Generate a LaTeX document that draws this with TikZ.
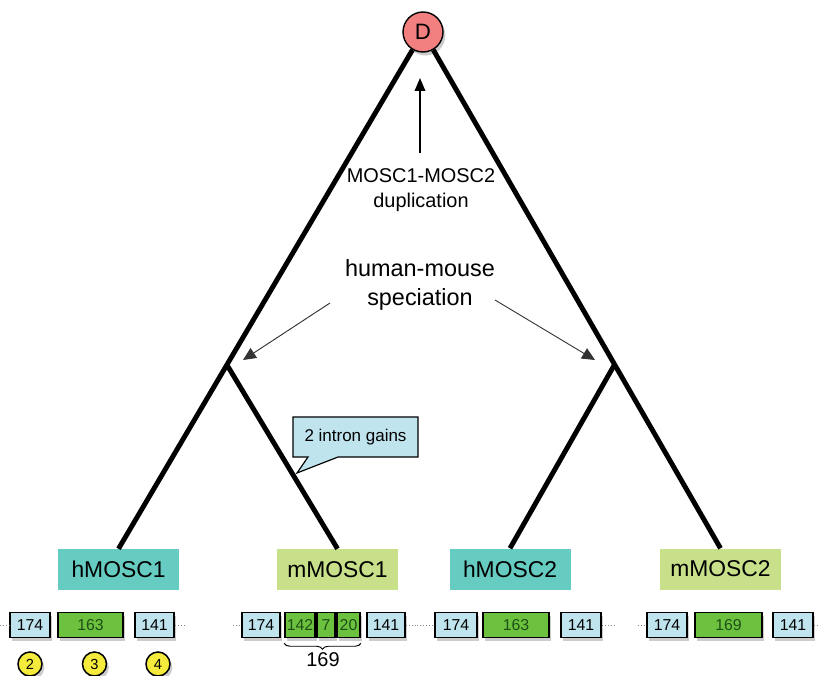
\documentclass[tikz,border=0pt]{standalone}
\usepackage{fontspec}
\setmainfont{Liberation Sans}
\usetikzlibrary{shapes.callouts,shadows,arrows.meta,decorations.pathreplacing,calc}
\definecolor{tealbox}{HTML}{66CCC2}
\definecolor{limebox}{HTML}{C8E08A}
\definecolor{exblue}{HTML}{BFE4EE}
\definecolor{exgreen}{HTML}{6CC23F}
\definecolor{exgtext}{HTML}{1E4F14}
\definecolor{dred}{HTML}{F28080}
\definecolor{yelc}{HTML}{F5EB3C}
\begin{document}
\begin{tikzpicture}[x=0.03cm,y=-0.03cm,
  tree/.style={line width=4.2pt,black},
  genebox/.style={minimum width=3.63cm,minimum height=1.23cm,inner sep=0pt,font=\fontsize{19.5}{22}\selectfont},
  shad/.style={drop shadow={shadow xshift=2pt,shadow yshift=-3pt,opacity=0.4}},
  exb/.style={draw,line width=1.4pt,fill=exblue,minimum height=0.75cm,inner sep=0pt,shad,font=\fontsize{13.5}{15}\selectfont},
  exg/.style={exb,fill=exgreen,text=exgtext},
  dots/.style={gray,dotted,line width=0.6pt},
  numc/.style={circle,draw,line width=1.3pt,fill=yelc,minimum size=0.72cm,inner sep=0pt,shad,font=\fontsize{12.5}{14}\selectfont},
  thinarrow/.style={line width=0.8pt,black!80,-{Triangle[length=11pt,width=10pt]}},
  vertarrow/.style={line width=1.2pt,-{Triangle[length=11pt,width=9pt]}}
]
\useasboundingbox (0,0) rectangle (819,675);

% root
\node[circle,draw,line width=1.2pt,fill=dred,minimum size=1.2cm,inner sep=0pt,shad,font=\fontsize{19}{21}\selectfont] (D) at (423,32) {D};

% gene labels
\node[genebox,fill=tealbox] (h1) at (118.5,569.5) {hMOSC1};
\node[genebox,fill=limebox] (m1) at (337.5,569.5) {mMOSC1};
\node[genebox,fill=tealbox] (h2) at (510,569) {hMOSC2};
\node[genebox,fill=limebox] (m2) at (720.5,569) {mMOSC2};

% tree
\coordinate (jL) at ($(D)!0.644!(h1.north)$);
\coordinate (jR) at ($(D)!0.644!(m2.north)$);
\draw[tree] (D) -- (h1.north);
\draw[tree] (D) -- (m2.north);
\draw[tree] (jL) -- (m1.north);
\draw[tree] (jR) -- (h2.north);

% duplication label
\node[align=center,font=\fontsize{17}{21}\selectfont] (dup) at (421,190) {MOSC1-MOSC2\\duplication};
\coordinate (dupS) at (420,153);
\coordinate (dupT) at (420,78);
\draw[vertarrow] (dupS) -- (dupT);

% speciation label
\node[align=center,font=\fontsize{20}{25.5}\selectfont] (spec) at (420,285) {human-mouse\\speciation};
\coordinate (sL0) at (330,303);
\coordinate (sL1) at (243,360);
\coordinate (sR0) at (495,300);
\coordinate (sR1) at (595,360);
\draw[thinarrow] (sL0) -- (sL1);
\draw[thinarrow] (sR0) -- (sR1);

% callout
\coordinate (gtip) at (297,473);
\node[rectangle callout,draw,line width=1pt,fill=exblue,callout absolute pointer={(gtip)},callout pointer width=0.9cm,minimum width=3.75cm,minimum height=1.2cm,inner sep=0pt,font=\fontsize{14.5}{17}\selectfont] (gain) at (355.5,437) {2 intron gains};

% exon row 1 (hMOSC1)
\node[exb,minimum width=1.2cm] (r1a) at (30,625) {174};
\node[exg,minimum width=1.95cm] (r1b) at (90.5,625) {163};
\node[exb,minimum width=1.17cm] (r1c) at (154.5,625) {141};
\coordinate (r1l) at (0,625);
\coordinate (r1r) at (187,625);
\draw[dots] (r1l) -- (r1a.west);
\draw[dots] (r1c.east) -- (r1r);

% exon row 2 (mMOSC1)
\node[exb,minimum width=1.14cm] (r2a) at (261,625) {174};
\node[exg,minimum width=0.9cm] (r2b) at (300,625) {142};
\node[exg,minimum width=0.54cm] (r2c) at (326,625) {7};
\node[exg,minimum width=0.69cm] (r2d) at (348.5,625) {20};
\node[exb,minimum width=1.14cm] (r2e) at (386,625) {141};
\coordinate (r2l) at (233,625);
\coordinate (r2r) at (418,625);
\draw[dots] (r2l) -- (r2a.west);
\draw[dots] (r2e.east) -- (r2r);
\draw[line width=0.8pt,decorate,decoration={brace,mirror,amplitude=5pt}] ($(r2b.south west)+(0,5)$) -- ($(r2d.south east)+(0,5)$);
\node[font=\fontsize{17}{20}\selectfont] (b169) at (323,660) {169};

% exon row 3 (hMOSC2)
\node[exb,minimum width=1.26cm] (r3a) at (456,625) {174};
\node[exg,minimum width=1.98cm] (r3b) at (516,625) {163};
\node[exb,minimum width=1.2cm] (r3c) at (581,625) {141};
\coordinate (r3l) at (417,625);
\coordinate (r3r) at (615,625);
\draw[dots] (r3l) -- (r3a.west);
\draw[dots] (r3c.east) -- (r3r);

% exon row 4 (mMOSC2)
\node[exb,minimum width=1.2cm] (r4a) at (667,625) {174};
\node[exg,minimum width=2.01cm] (r4b) at (728.5,625) {169};
\node[exb,minimum width=1.2cm] (r4c) at (793,625) {141};
\coordinate (r4l) at (638,625);
\coordinate (r4r) at (819,625);
\draw[dots] (r4l) -- (r4a.west);
\draw[dots] (r4c.east) -- (r4r);

% numbered circles
\node[numc] (c2) at (30,664) {2};
\node[numc] (c3) at (94.5,664) {3};
\node[numc] (c4) at (158,664) {4};
\end{tikzpicture}
\end{document}
